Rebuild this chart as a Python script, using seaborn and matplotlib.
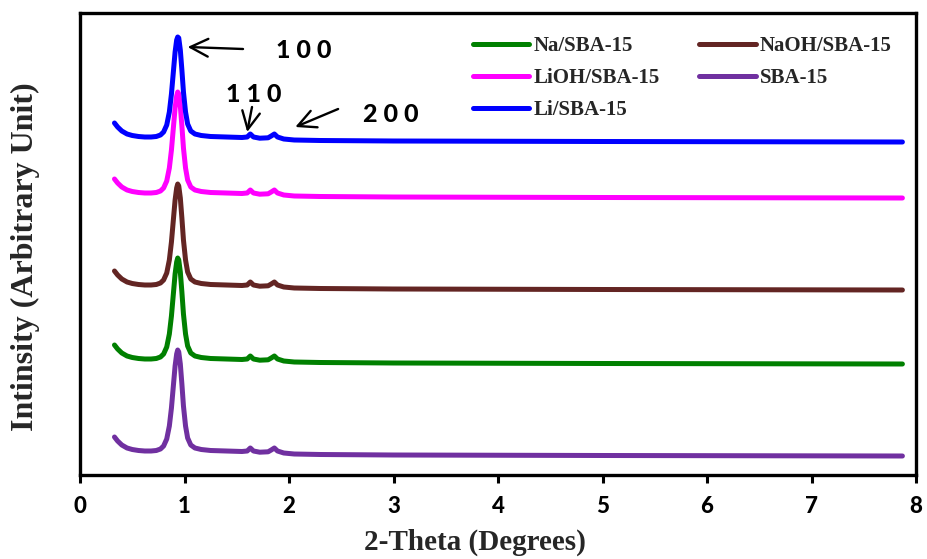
import matplotlib
matplotlib.use("Agg")
import matplotlib.pyplot as plt
import seaborn as sns
import pandas as pd

sns.set_theme(style="white")
plt.rcParams['font.family'] = ['Liberation Serif', 'DejaVu Serif']

# ---- data ----
two_theta = [0.33, 0.36, 0.40, 0.45, 0.50, 0.56, 0.62, 0.68, 0.73, 0.77, 0.80, 0.83,
             0.855, 0.875, 0.895, 0.91, 0.925, 0.935, 0.945, 0.96, 0.975, 0.99, 1.01,
             1.03, 1.06, 1.10, 1.16, 1.25, 1.40, 1.55, 1.60, 1.63, 1.66, 1.72, 1.80,
             1.83, 1.86, 1.89, 1.95, 2.05, 2.30, 3.00, 5.00, 7.87]

sba15 = [38, 34, 30, 27, 25.5, 24.5, 24, 24, 24.5, 26, 29, 36, 49, 67, 91, 109, 121, 125,
         123, 111, 91, 69, 49, 37, 30, 27, 25.5, 24.5, 24, 23.5, 24, 27, 24, 22.8, 23.2,
         25, 27, 24, 22, 21, 20.5, 20, 19.5, 19]
na_sba15 = [130, 126, 122, 119, 117.5, 116.5, 116, 116, 116.5, 118, 121, 128, 141, 159,
            183, 201, 213, 217, 215, 203, 183, 161, 141, 129, 122, 119, 117.5, 116.5, 116,
            115.5, 116, 119, 116, 114.8, 115.2, 117, 119, 116, 114, 113, 112.5, 112,
            111.5, 111]
naoh_sba15 = [204, 200, 196, 193, 191.5, 190.5, 190, 190, 190.5, 192, 195, 202, 215, 233,
              257, 275, 287, 291, 289, 277, 257, 235, 215, 203, 196, 193, 191.5, 190.5, 190,
              189.5, 190, 193, 190, 188.8, 189.2, 191, 193, 190, 188, 187, 186.5, 186,
              185.5, 185]
lioh_sba15 = [296, 292, 288, 285, 283.5, 282.5, 282, 282, 282.5, 284, 287, 294, 307, 325,
              349, 367, 379, 383, 381, 369, 349, 327, 307, 295, 288, 285, 283.5, 282.5, 282,
              281.5, 282, 285, 282, 280.8, 281.2, 283, 285, 282, 280, 279, 278.5, 278,
              277.5, 277]
li_sba15 = [352, 348, 344, 341, 339.5, 338.5, 338, 338, 338.5, 340, 343, 350, 363, 381,
            405, 423, 435, 438, 437, 425, 405, 383, 363, 351, 344, 341, 339.5, 338.5, 338,
            337.5, 338, 341, 338, 336.8, 337.2, 339, 341, 338, 336, 335, 334.5, 334,
            333.5, 333]

series_names = ["Na/SBA-15", "LiOH/SBA-15", "Li/SBA-15", "NaOH/SBA-15", "SBA-15"]
series_values = [na_sba15, lioh_sba15, li_sba15, naoh_sba15, sba15]
series_colors = ["#008000", "#FF00FF", "#0000FF", "#632523", "#7030A0"]

x_ticks = [0, 1, 2, 3, 4, 5, 6, 7, 8]

peak_labels = ["1 0 0", "1 1 0", "2 0 0"]

# ---- figure ----
W, H = 927, 559
fig = plt.figure(figsize=(W / 100, H / 100), dpi=100)
ax = fig.add_axes([80 / W, 1 - 475 / H, (916 - 80) / W, (475 - 13) / H])

for name, vals, col in zip(series_names, series_values, series_colors):
    df = pd.DataFrame({"x": two_theta, "y": vals})
    sns.lineplot(data=df, x="x", y="y", ax=ax, color=col, lw=3.6,
                 estimator=None, sort=False, label=name,
                 solid_capstyle="round", solid_joinstyle="round")

ax.set_xlim(0, 8)
ax.set_ylim(0, 462)
ax.set_xticks(x_ticks)
ax.set_xticklabels([str(t) for t in x_ticks], fontfamily="Lato",
                   fontweight=900, fontsize=16)
ax.set_yticks([])
ax.set_xlabel("")
ax.set_ylabel("")
ax.tick_params(axis="x", direction="out", length=6, width=2.2, pad=9,
               bottom=True, colors="black")
for sp in ax.spines.values():
    sp.set_visible(True)
    sp.set_color("black")
    sp.set_linewidth(2.4)

# legend
h, l = ax.get_legend_handles_labels()
leg = fig.legend(h, l, ncol=2, loc="upper left",
                 bbox_to_anchor=(473 / W, 1 - 36 / H), frameon=False,
                 prop=dict(family="Liberation Serif", weight="bold", size=15),
                 handlelength=2.7, handletextpad=0.2, columnspacing=1.9,
                 labelspacing=0.58, borderpad=0, borderaxespad=0)
for lh in leg.get_lines():
    lh.set_linewidth(3.6)
    lh.set_solid_capstyle("round")
if ax.get_legend() is not None:
    ax.get_legend().remove()

# annotations
arrow_kw = dict(arrowstyle="->", lw=1.7, color="black", mutation_scale=32,
                shrinkA=0, shrinkB=0)
ax.annotate("", xy=(1.03, 428), xytext=(1.56, 426), arrowprops=arrow_kw)
ax.annotate("", xy=(1.60, 343), xytext=(1.646, 368), arrowprops=arrow_kw)
ax.annotate("", xy=(2.06, 348), xytext=(2.47, 366), arrowprops=arrow_kw)

txt_kw = dict(fontfamily="Lato", fontweight=900, fontsize=18,
              ha="center", va="center", color="black")
ax.text(2.14, 424, peak_labels[0], **txt_kw)
ax.text(1.665, 381, peak_labels[1], **txt_kw)
ax.text(2.97, 361, peak_labels[2], **txt_kw)

# axis labels
fig.text(475 / W, 1 - 542 / H, "2-Theta (Degrees)", ha="center", va="center",
         fontfamily="Liberation Serif", fontweight="bold", fontsize=21)
fig.text(25 / W, 1 - 257 / H, "Intinsity (Arbitrary Unit)", ha="center",
         va="center", rotation=90, fontfamily="Liberation Serif",
         fontweight="bold", fontsize=23)

fig.savefig("out.png", dpi=100)
